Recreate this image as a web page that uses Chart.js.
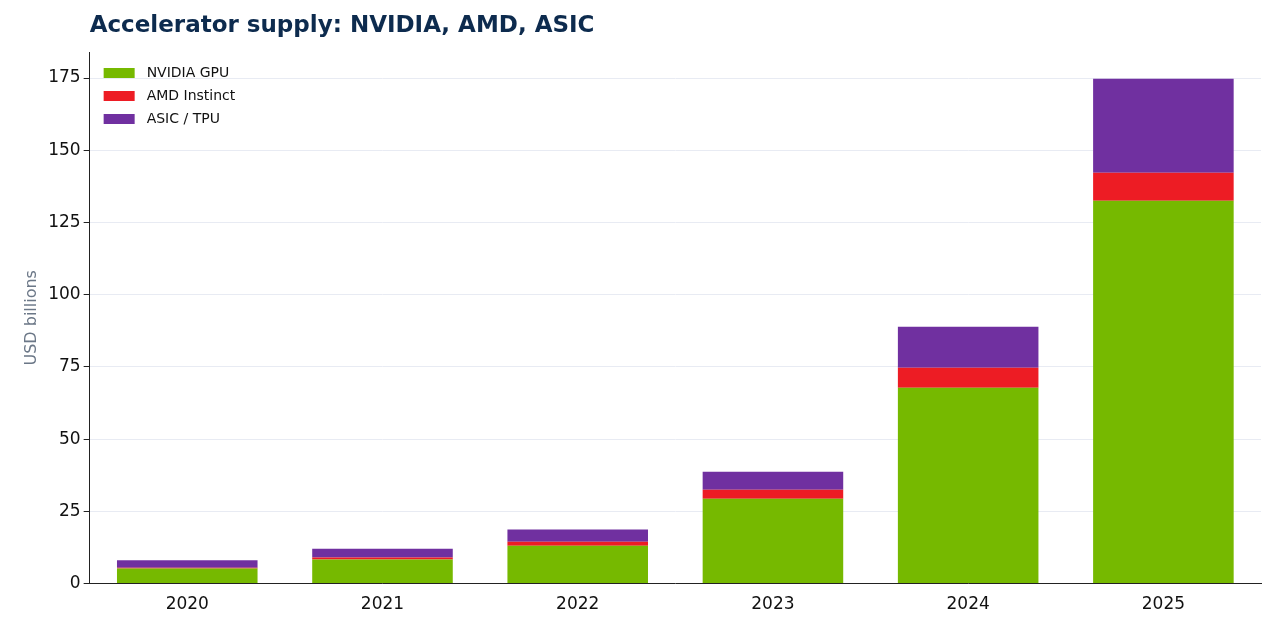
<!DOCTYPE html>
<html>
<head>
<meta charset="utf-8">
<script src="https://cdn.jsdelivr.net/npm/chart.js@4.4.1/dist/chart.umd.min.js"></script>
<style>
  html, body { margin: 0; padding: 0; background: #fff; }
  #wrap { width: 1273px; height: 630px; }
</style>
</head>
<body>
<div id="wrap"><canvas id="chart"></canvas></div>
<script>
const years = ["2020", "2021", "2022", "2023", "2024", "2025"];
const nvidiaGpu = [5.2, 8.3, 13.1, 29.4, 67.8, 132.5];
const amdInstinct = [0.3, 0.7, 1.4, 3.1, 6.9, 9.7];
const asicTpu = [2.6, 3.1, 4.2, 6.2, 14.2, 32.5];

const font = "'DejaVu Sans', sans-serif";

// title and legend drawn relative to the plot area
const overlay = {
  id: "overlay",
  afterDraw(chart) {
    const { ctx, chartArea } = chart;
    ctx.save();
    ctx.fillStyle = "#0d2b4e";
    ctx.font = "bold 23px " + font;
    ctx.textBaseline = "middle";
    ctx.fillText("Accelerator supply: NVIDIA, AMD, ASIC", chartArea.left, 26);
    ctx.font = "14px " + font;
    chart.data.datasets.forEach((ds, i) => {
      const y = chartArea.top + 21 + i * 23;
      ctx.fillStyle = ds.backgroundColor;
      ctx.fillRect(chartArea.left + 14, y - 5, 31, 10);
      ctx.fillStyle = "#111";
      ctx.fillText(ds.label, chartArea.left + 57, y);
    });
    ctx.restore();
  }
};

new Chart(document.getElementById("chart"), {
  type: "bar",
  data: {
    labels: years,
    datasets: [
      { label: "NVIDIA GPU", data: nvidiaGpu, backgroundColor: "#76b900" },
      { label: "AMD Instinct", data: amdInstinct, backgroundColor: "#ed1c24" },
      { label: "ASIC / TPU", data: asicTpu, backgroundColor: "#7030a0" }
    ]
  },
  plugins: [overlay],
  options: {
    responsive: true,
    maintainAspectRatio: false,
    animation: false,
    layout: { padding: { left: 18, right: 12, top: 52, bottom: 12 } },
    datasets: { bar: { categoryPercentage: 0.72, barPercentage: 1.0 } },
    plugins: {
      legend: { display: false },
      tooltip: { enabled: false }
    },
    scales: {
      x: {
        stacked: true,
        grid: { display: false },
        border: { color: "#222" },
        ticks: { color: "#111", font: { family: font, size: 17 } }
      },
      y: {
        stacked: true,
        min: 0,
        max: 184,
        afterBuildTicks: (axis) => {
          axis.ticks = [0, 25, 50, 75, 100, 125, 150, 175].map(v => ({ value: v }));
        },
        grid: { color: "#e8ebf3", drawTicks: true, tickColor: "#222", tickLength: 6 },
        border: { color: "#222" },
        ticks: { color: "#111", font: { family: font, size: 17 } },
        title: {
          display: true,
          text: "USD billions",
          color: "#6b7787",
          font: { family: font, size: 16 }
        }
      }
    }
  }
});
</script>
</body>
</html>
